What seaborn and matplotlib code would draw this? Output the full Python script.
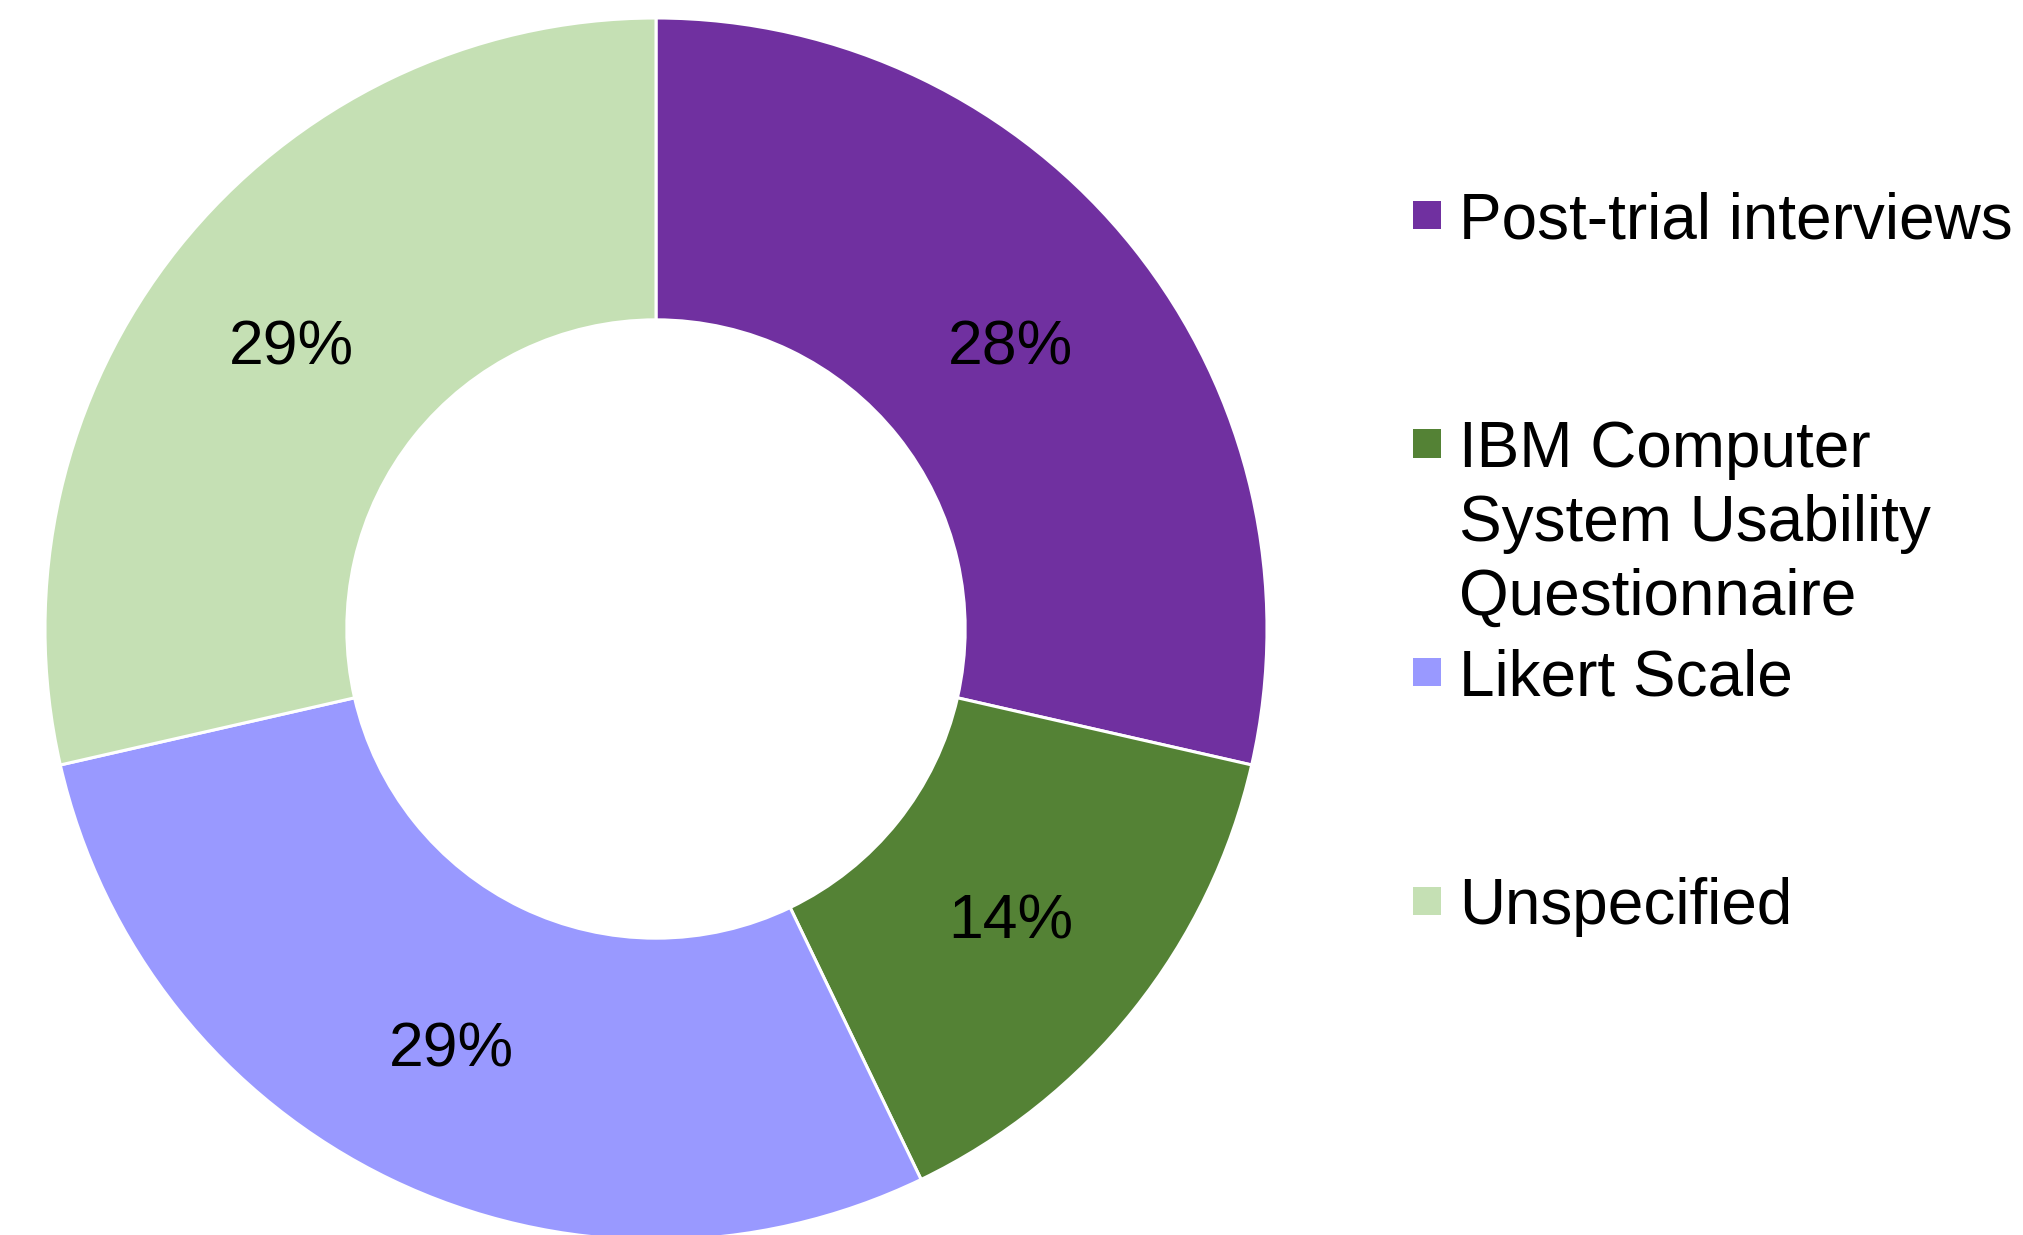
import matplotlib
matplotlib.use("Agg")
import matplotlib.pyplot as plt
import matplotlib.transforms as mtransforms
import seaborn as sns
from matplotlib.patches import Rectangle

# ---- data ----
categories = ["Post-trial interviews",
              "IBM Computer\nSystem Usability\nQuestionnaire",
              "Likert Scale",
              "Unspecified"]
counts = [2, 1, 2, 2]
pct_labels = ["28%", "14%", "29%", "29%"]
colors = ["#7030A0", "#548235", "#9999FF", "#C5E0B4"]

sns.set_theme(style="white")
plt.rcParams["font.family"] = ["Liberation Sans", "DejaVu Sans"]

W, H = 2023, 1235
fig = plt.figure(figsize=(W / 100, H / 100), dpi=100)
fig.patch.set_facecolor("white")

cx, cy, R = 656, 629, 611
ax = fig.add_axes([(cx - R) / W, (H - cy - R) / H, 2 * R / W, 2 * R / H])
palette = sns.color_palette(colors)
wedges, texts = ax.pie(counts, labels=pct_labels, colors=palette,
                       startangle=90, counterclock=False, radius=1.0,
                       labeldistance=0.753,
                       wedgeprops=dict(width=0.494, edgecolor="white", linewidth=2.2),
                       textprops=dict(fontsize=45, color="black"))
offset = mtransforms.ScaledTranslation(-5 / 100, -6 / 100, fig.dpi_scale_trans)
for t in texts:
    t.set_ha("center")
    t.set_va("center")
    t.set_transform(ax.transData + offset)
ax.set_xlim(-1, 1)
ax.set_ylim(-1, 1)
ax.axis("off")

# ---- legend (manual, first line aligned with marker) ----
entry_y0, entry_step, line_step = 215, 228.5, 74
mx, msize, tx = 1413, 28, 1459
for i, (lab, col) in enumerate(zip(categories, colors)):
    yc = entry_y0 + i * entry_step
    fig.patches.append(Rectangle((mx / W, (H - yc - msize / 2) / H), msize / W, msize / H,
                                 transform=fig.transFigure, facecolor=col,
                                 edgecolor="none", figure=fig))
    for j, line in enumerate(lab.split("\n")):
        fig.text(tx / W, (H - (yc + j * line_step)) / H, line, fontsize=46,
                 ha="left", va="center_baseline", color="black")

fig.savefig("out.png", dpi=100, facecolor="white")
